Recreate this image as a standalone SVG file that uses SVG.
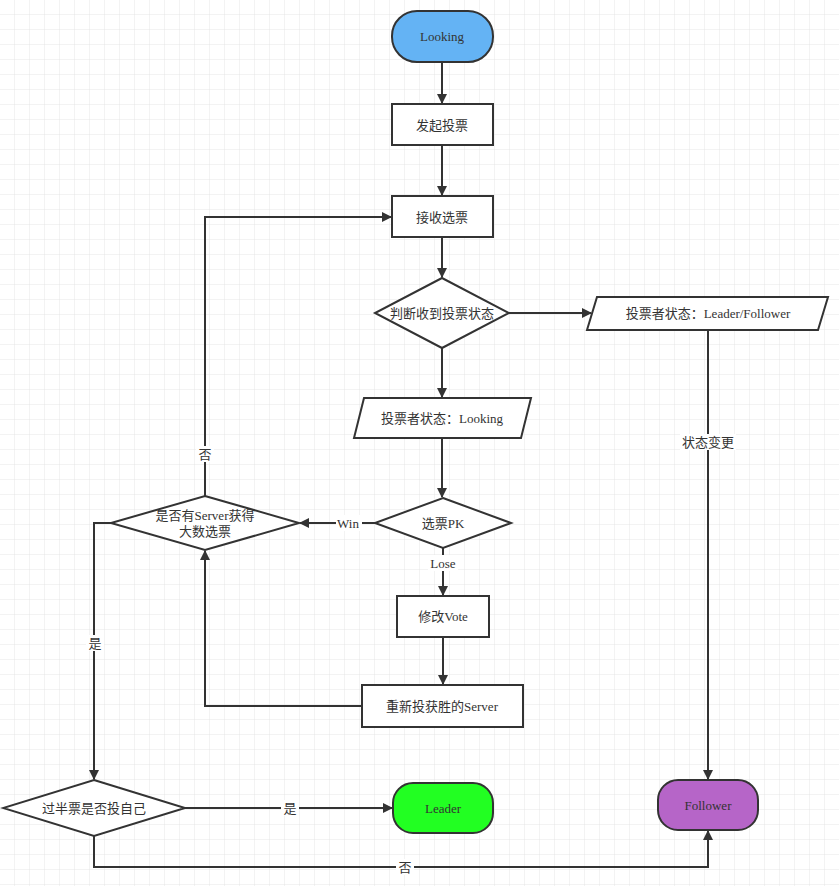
<svg xmlns="http://www.w3.org/2000/svg" width="839" height="886" viewBox="0 0 839 886">
<style>
.n{fill:#fff;stroke:#333;stroke-width:2}
.t{font-family:"Liberation Serif","Noto Sans CJK SC",serif;font-size:13px;fill:#333;text-anchor:middle;dominant-baseline:central}
.c path{fill:none;stroke:#333;stroke-width:2;marker-end:url(#a)}
.l{fill:#fff}
</style>
<defs>
<marker id="a" markerWidth="10" markerHeight="10" refX="9" refY="5" orient="auto" markerUnits="userSpaceOnUse"><path d="M0,0L10,5L0,10Z" fill="#333"/></marker>
<pattern id="g" width="15" height="15" patternUnits="userSpaceOnUse"><path d="M15 0V15H0" fill="none" stroke="#e6e6e6" stroke-width="1"/></pattern>
</defs>
<rect width="839" height="886" fill="#fff"/>
<rect width="839" height="886" fill="url(#g)"/>
<g class="c">
<path d="M442,62V103"/>
<path d="M442,145V195"/>
<path d="M442,237V277"/>
<path d="M509,313H591"/>
<path d="M442,348V397"/>
<path d="M442,438V497"/>
<path d="M375,523H300"/>
<path d="M443,548V595"/>
<path d="M443,637V684"/>
<path d="M362,706H205V551"/>
<path d="M205,496V217H391"/>
<path d="M111,523H94V779"/>
<path d="M185,808H392"/>
<path d="M94,836V867H708V831"/>
<path d="M708,330V779"/>
<rect class="l" x="336" y="515" width="26" height="16"/><text class="t" x="348" y="523">Win</text>
<rect class="l" x="428" y="555" width="30" height="16"/><text class="t" x="443" y="563">Lose</text>
<rect class="l" x="196" y="446" width="18" height="16"/><text class="t" x="205" y="454">否</text>
<rect class="l" x="86" y="635" width="18" height="16"/><text class="t" x="95" y="643">是</text>
<rect class="l" x="281" y="800" width="18" height="16"/><text class="t" x="290" y="808">是</text>
<rect class="l" x="396" y="859" width="18" height="16"/><text class="t" x="405" y="867">否</text>
<rect class="l" x="680" y="434" width="56" height="16"/><text class="t" x="708" y="442">状态变更</text>
</g>
<g id="looking"><rect class="n" x="392" y="11" width="101" height="51" rx="25" fill="#64b3f4" style="fill:#64b3f4"/><text class="t" x="442" y="36">Looking</text></g>
<g id="faqi"><rect class="n" x="392" y="104" width="101" height="41"/><text class="t" x="442" y="125">发起投票</text></g>
<g id="jieshou"><rect class="n" x="392" y="196" width="101" height="41"/><text class="t" x="442" y="217">接收选票</text></g>
<g id="panduan"><path class="n" d="M442,278L509,313L442,348L375,313Z"/><text class="t" x="442" y="313">判断收到投票状态</text></g>
<g id="lf"><path class="n" d="M597,297H828L818,330H587Z"/><text class="t" x="708" y="313">投票者状态：Leader/Follower</text></g>
<g id="lk"><path class="n" d="M364,398H531L521,438H354Z"/><text class="t" x="442" y="418">投票者状态：Looking</text></g>
<g id="pk"><path class="n" d="M443,498L511,523L443,548L375,523Z"/><text class="t" x="443" y="523">选票PK</text></g>
<g id="shifou"><path class="n" d="M205,496L299,523L205,550L111,523Z"/><text class="t" x="205" y="515">是否有Server获得</text><text class="t" x="205" y="531">大数选票</text></g>
<g id="xiugai"><rect class="n" x="397" y="596" width="92" height="41"/><text class="t" x="443" y="616">修改Vote</text></g>
<g id="chongxin"><rect class="n" x="362" y="685" width="161" height="42"/><text class="t" x="442" y="706">重新投获胜的Server</text></g>
<g id="guoban"><path class="n" d="M94,780L185,808L94,836L3,808Z"/><text class="t" x="94" y="808">过半票是否投自己</text></g>
<g id="leader"><rect class="n" x="393" y="783" width="100" height="50" rx="20" style="fill:#22ff22"/><text class="t" x="443" y="808">Leader</text></g>
<g id="follower"><rect class="n" x="658" y="780" width="100" height="50" rx="20" style="fill:#b665c8"/><text class="t" x="708" y="805">Follower</text></g>
</svg>
